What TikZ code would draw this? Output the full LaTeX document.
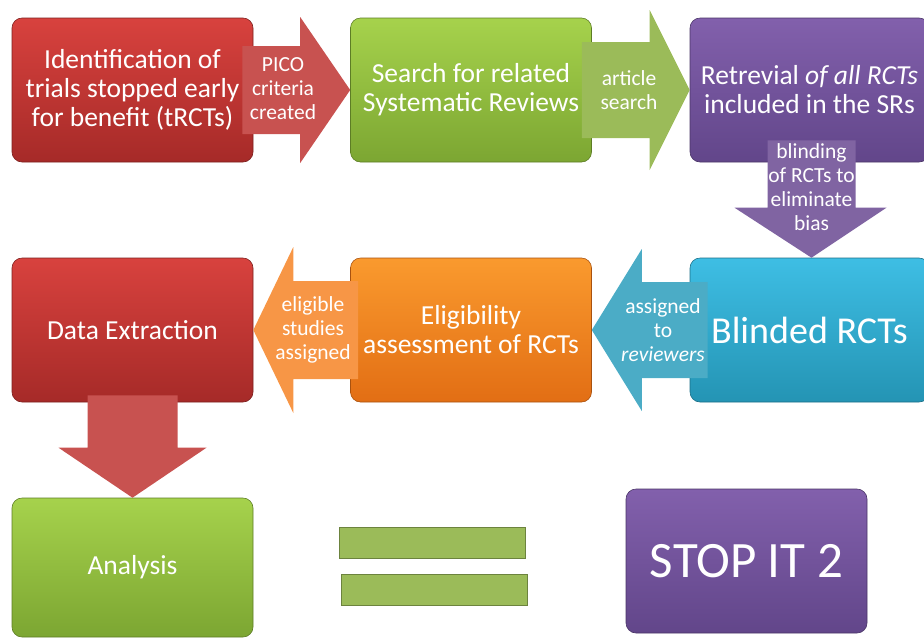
\documentclass[tikz,border=0pt]{standalone}
\usepackage{fontspec}
\setmainfont{Carlito}
\usetikzlibrary{calc}
\definecolor{redTop}{RGB}{216,66,62}
\definecolor{redBot}{RGB}{166,42,40}
\definecolor{redArr}{RGB}{200,82,80}
\definecolor{greenTop}{RGB}{166,210,76}
\definecolor{greenBot}{RGB}{124,166,50}
\definecolor{greenArr}{RGB}{155,187,89}
\definecolor{purpTop}{RGB}{130,96,172}
\definecolor{purpBot}{RGB}{98,70,138}
\definecolor{purpArr}{RGB}{128,100,162}
\definecolor{blueTop}{RGB}{62,190,228}
\definecolor{blueBot}{RGB}{36,148,180}
\definecolor{blueArr}{RGB}{75,172,198}
\definecolor{orgTop}{RGB}{250,154,46}
\definecolor{orgBot}{RGB}{226,110,20}
\definecolor{orgArr}{RGB}{247,150,70}

\begin{document}
\begin{tikzpicture}[x=1pt, y=-1pt,
    stepbox/.style={rectangle, rounded corners=10pt, minimum width=241pt,
                    minimum height=144pt, text=white, align=center, inner sep=2pt,
                    font=\fontsize{27.5}{29}\selectfont, line width=0.6pt},
    redbox/.style={stepbox, top color=redTop, bottom color=redBot, draw=redBot!75!black},
    greenbox/.style={stepbox, top color=greenTop, bottom color=greenBot, draw=greenBot!75!black},
    purpbox/.style={stepbox, top color=purpTop, bottom color=purpBot, draw=purpBot!75!black},
    bluebox/.style={stepbox, top color=blueTop, bottom color=blueBot, draw=blueBot!75!black},
    orgbox/.style={stepbox, top color=orgTop, bottom color=orgBot, draw=orgBot!75!black},
    lbl/.style={text=white, align=center, inner sep=0pt, font=\fontsize{21.5}{24}\selectfont},
    bar/.style={rectangle, fill=greenArr, draw=greenArr!70!black, line width=0.5pt,
                minimum width=186pt, minimum height=31pt, inner sep=0pt}
  ]
  \useasboundingbox (0,0) rectangle (924,638);
  \clip (0,0) rectangle (924,638);

  % Steps
  \node[redbox]   (idf)  at (132.5, 90) {Identification of\\trials stopped early\\for benefit (tRCTs)};
  \node[greenbox] (srch) at (471, 90)   {Search for related\\Systematic Reviews};
  \node[purpbox, minimum width=239pt] (retr) at (809.5, 90)
    {Retrevial \textit{of all RCTs}\\included in the SRs};
  \node[bluebox, minimum width=239pt] (blind) at (809.5, 330)
    {\fontsize{38}{40}\selectfont Blinded RCTs};
  \node[orgbox]   (elig) at (471, 330)   {Eligibility\\assessment of RCTs};
  \node[redbox]   (data) at (132.5, 330) {Data Extraction};
  \node[greenbox, minimum height=139pt] (anal) at (132.5, 567.5) {Analysis};

  % Block arrows
  \fill[redArr] ($(idf.east)+(-11,-44)$) -- ($(srch.west)+(-50,-44)$) -- ($(srch.west)+(-50,-73)$)
    -- (srch.west) -- ($(srch.west)+(-50,73)$) -- ($(srch.west)+(-50,44)$)
    -- ($(idf.east)+(-11,44)$) -- cycle;
  \fill[greenArr] ($(srch.east)+(-10,-48)$) -- ($(retr.west)+(-40,-48)$) -- ($(retr.west)+(-40,-80)$)
    -- (retr.west) -- ($(retr.west)+(-40,80)$) -- ($(retr.west)+(-40,48)$)
    -- ($(srch.east)+(-10,48)$) -- cycle;
  \fill[purpArr] ($(retr.south)+(-42,-22)$) -- ($(blind.north)+(-42,-50)$) -- ($(blind.north)+(-75,-50)$)
    -- ($(blind.north)+(2,0)$) -- ($(blind.north)+(77,-50)$) -- ($(blind.north)+(46,-50)$)
    -- ($(retr.south)+(46,-22)$) -- cycle;
  \fill[blueArr] ($(blind.west)+(18,-48)$) -- ($(elig.east)+(50,-48)$) -- ($(elig.east)+(50,-81)$)
    -- (elig.east) -- ($(elig.east)+(50,81)$) -- ($(elig.east)+(50,48)$)
    -- ($(blind.west)+(18,48)$) -- cycle;
  \fill[orgArr] ($(elig.west)+(8,-49)$) -- ($(data.east)+(40,-49)$) -- ($(data.east)+(40,-83)$)
    -- (data.east) -- ($(data.east)+(40,83)$) -- ($(data.east)+(40,49)$)
    -- ($(elig.west)+(8,49)$) -- cycle;
  \fill[redArr] ($(data.south)+(-45,-7)$) -- ($(anal.north)+(-45,-50)$) -- ($(anal.north)+(-74,-50)$)
    -- (anal.north) -- ($(anal.north)+(74,-50)$) -- ($(anal.north)+(45,-50)$)
    -- ($(data.south)+(45,-7)$) -- cycle;

  % Arrow labels
  \node[lbl] (pico)  at (283, 89)  {PICO\\criteria\\created};
  \node[lbl] (artc)  at (629, 90)  {article\\search};
  \node[lbl] (blnd)  at (811.5, 187) {blinding\\of RCTs to\\eliminate\\bias};
  \node[lbl] (asgn)  at (663, 330) {assigned\\to\\\textit{reviewers}};
  \node[lbl] (elst)  at (313, 330) {eligible\\studies\\assigned};

  % Equals sign and result
  \node[bar] (eqtop) at (432.5, 543) {};
  \node[bar] (eqbot) at (434.5, 590) {};
  \node[purpbox, font=\fontsize{51}{54}\selectfont] (stop) at (746.5, 561) {STOP IT 2};
\end{tikzpicture}
\end{document}
